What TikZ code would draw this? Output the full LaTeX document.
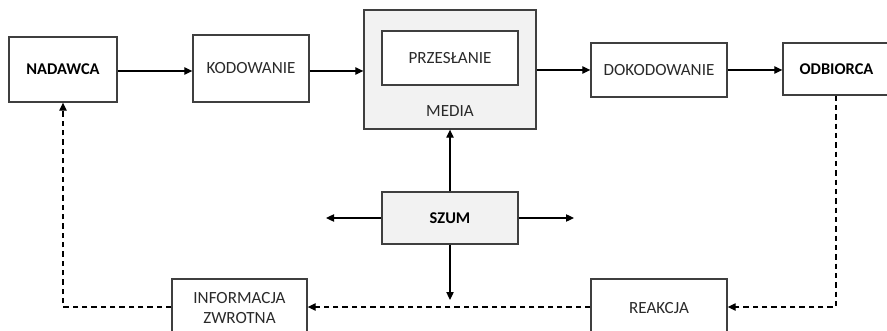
\documentclass[tikz,border=0pt]{standalone}
\usepackage{fontspec}
\setmainfont{Carlito}
\usetikzlibrary{arrows.meta}
\definecolor{edge}{HTML}{3F3F3F}
\definecolor{txt}{HTML}{2A2A2A}
\definecolor{shade}{HTML}{F2F2F2}
\tikzset{
  box/.style={draw=edge, line width=1pt, fill=white, text=txt, inner sep=0pt,
    font=\fontsize{12.8}{15}\selectfont, align=center},
  boldbox/.style={box, font=\fontsize{12.3}{15}\selectfont\bfseries, text=black},
  sz/.style 2 args={minimum width=#1*0.75pt, minimum height=#2*0.75pt},
  conn/.style={draw=black, line width=0.9pt, -{Triangle[length=6pt,width=5.5pt]}},
  dconn/.style={conn, dash pattern=on 4pt off 3pt}
}
\begin{document}
\begin{tikzpicture}[x=0.75pt,y=-0.75pt]
\useasboundingbox (0,0) rectangle (887,331);
\node[boldbox, sz={108}{65}] (nad) at (63,69.5) {NADAWCA};
\node[box, sz={116}{67}] (kod) at (251,68.5) {KODOWANIE};
\node[box, fill=shade, sz={172}{119}] (media) at (450,69.5) {};
\node[box, sz={136}{54}] (prz) at (450,58) {PRZESŁANIE};
\node[text=txt, font=\fontsize{12.8}{15}\selectfont, inner sep=0pt] (medl) at (450,111) {MEDIA};
\node[box, sz={136}{54}] (dok) at (659,70) {DOKODOWANIE};
\node[boldbox, sz={107}{52}] (odb) at (836.5,69) {ODBIORCA};
\node[boldbox, fill=shade, sz={136}{52}] (szum) at (450,218) {SZUM};
\node[box, sz={135}{58}] (info) at (239.5,308) {INFORMACJA\\ZWROTNA};
\node[box, sz={136}{58}] (reak) at (659,308) {REAKCJA};
\coordinate (sl) at (326,218);
\coordinate (sr) at (574,218);
\coordinate (sd) at (450,300);
\coordinate (cr) at (836,307);
\coordinate (cl) at (63,307);
\draw[conn] (nad.east |- 0,71) -- (kod.west |- 0,71);
\draw[conn] (kod.east |- 0,71) -- (media.west |- 0,71);
\draw[conn] (media.east |- 0,70) -- (dok.west |- 0,70);
\draw[conn] (dok.east |- 0,70) -- (odb.west |- 0,70);
\draw[conn] (szum.north) -- (media.south);
\draw[conn] (szum.west) -- (sl);
\draw[conn] (szum.east) -- (sr);
\draw[conn] (szum.south) -- (sd);
\draw[dconn] (odb.south -| cr) -- (cr) -- (reak.east |- cr);
\draw[dconn] (reak.west |- cr) -- (info.east |- cr);
\draw[dconn] (info.west |- cl) -- (cl) -- (nad.south -| cl);
\end{tikzpicture}
\end{document}
